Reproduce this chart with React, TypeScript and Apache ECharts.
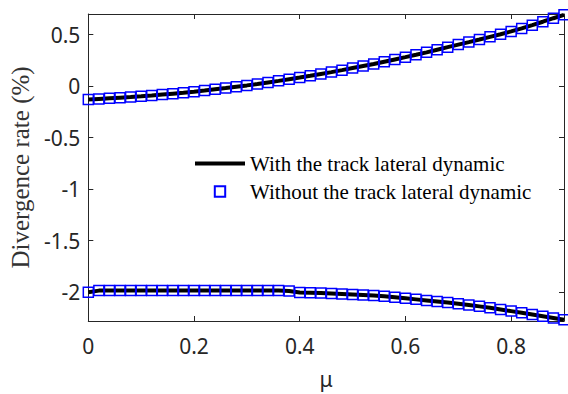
import React, { useEffect, useRef } from "react";
import * as echarts from "echarts";

const mu = [
  0, 0.02, 0.04, 0.06, 0.08, 0.1, 0.12, 0.14, 0.16, 0.18, 0.2, 0.22, 0.24, 0.26, 0.28, 0.3,
  0.32, 0.34, 0.36, 0.38, 0.4, 0.42, 0.44, 0.46, 0.48, 0.5, 0.52, 0.54, 0.56, 0.58, 0.6,
  0.62, 0.64, 0.66, 0.68, 0.7, 0.72, 0.74, 0.76, 0.78, 0.8, 0.82, 0.84, 0.86, 0.88, 0.9,
];

const upperBranch = [
  -0.13, -0.124, -0.118, -0.112, -0.106, -0.099, -0.091, -0.082, -0.073, -0.064, -0.054,
  -0.043, -0.031, -0.019, -0.006, 0.007, 0.021, 0.036, 0.051, 0.067, 0.083, 0.1, 0.118,
  0.136, 0.155, 0.175, 0.195, 0.215, 0.237, 0.259, 0.281, 0.304, 0.328, 0.353, 0.378,
  0.403, 0.427, 0.452, 0.478, 0.504, 0.531, 0.56, 0.592, 0.625, 0.659, 0.692,
];

const lowerBranch = [
  -2.0, -1.985, -1.985, -1.985, -1.985, -1.985, -1.985, -1.985, -1.985, -1.985, -1.985,
  -1.985, -1.985, -1.985, -1.985, -1.985, -1.985, -1.985, -1.985, -1.988, -2.003, -2.006,
  -2.009, -2.013, -2.017, -2.022, -2.027, -2.033, -2.04, -2.05, -2.06, -2.07, -2.08, -2.09,
  -2.101, -2.112, -2.125, -2.138, -2.152, -2.168, -2.184, -2.2, -2.216, -2.233, -2.25, -2.268,
];

const seriesNames = ["With the track lateral dynamic", "Without the track lateral dynamic"];

const pairs = (xs: number[], ys: number[]) => xs.map((x, i) => [x, ys[i]]);

const axisColor = "#262626";
const tickFont = { fontFamily: "Noto Sans", fontSize: 21, color: axisColor };

export default function App() {
  const ref = useRef<HTMLDivElement>(null);
  useEffect(() => {
    if (!ref.current) return;
    const chart = echarts.init(ref.current, null, { renderer: "svg" });
    const withStyle = {
      type: "line",
      name: seriesNames[0],
      symbol: "none",
      lineStyle: { color: "#000", width: 4 },
      itemStyle: { color: "#000" },
      z: 2,
    };
    const withoutStyle = {
      type: "line",
      name: seriesNames[1],
      symbol: "rect",
      symbolSize: 10,
      showSymbol: true,
      showAllSymbol: true,
      lineStyle: { width: 0, opacity: 0 },
      itemStyle: { color: "rgba(0,0,0,0)", borderColor: "#0000ff", borderWidth: 1.5 },
      z: 3,
    };
    const commonX = {
      type: "value",
      min: 0,
      max: 0.9,
      interval: 0.2,
      axisLine: { show: true, onZero: false, lineStyle: { color: axisColor, width: 1 } },
      axisTick: { show: true, inside: true, length: 5, lineStyle: { color: axisColor } },
      splitLine: { show: false },
    };
    const commonY = {
      type: "value",
      min: -2.28,
      max: 0.7,
      minInterval: 0.5,
      maxInterval: 0.5,
      axisLine: { show: true, onZero: false, lineStyle: { color: axisColor, width: 1 } },
      axisTick: { show: true, inside: true, length: 5, lineStyle: { color: axisColor } },
      splitLine: { show: false },
    };
    chart.setOption({
      animation: false,
      backgroundColor: "#fff",
      grid: { left: 88, right: 4, top: 14, bottom: 73, containLabel: false },
      legend: {
        orient: "vertical",
        left: 188,
        top: 148,
        itemWidth: 50,
        itemHeight: 13,
        itemGap: 7,
        selectedMode: false,
        textStyle: { fontFamily: "Liberation Serif", fontSize: 21, color: "#000", lineHeight: 20 },
        data: [
          { name: seriesNames[0], itemStyle: { opacity: 0 }, lineStyle: { width: 4, color: "#000" } },
          { name: seriesNames[1] },
        ],
      },
      xAxis: [
        {
          ...commonX,
          position: "bottom",
          axisLabel: { ...tickFont, margin: 14, showMaxLabel: false },
          name: "μ",
          nameLocation: "middle",
          nameGap: 47,
          nameTextStyle: { fontFamily: "Noto Sans", fontSize: 21, color: axisColor },
        },
        { ...commonX, position: "top", axisLabel: { show: false } },
      ],
      yAxis: [
        {
          ...commonY,
          position: "left",
          axisLabel: { ...tickFont, margin: 8, showMinLabel: false, showMaxLabel: false },
          name: "Divergence rate (%)",
          nameLocation: "middle",
          nameGap: 48,
          nameTextStyle: { fontFamily: "Liberation Serif", fontSize: 25, color: "#333" },
        },
        { ...commonY, position: "right", axisLabel: { show: false } },
      ],
      series: [
        { ...withStyle, data: pairs(mu, upperBranch) },
        { ...withStyle, data: pairs(mu, lowerBranch) },
        { ...withoutStyle, data: pairs(mu, upperBranch) },
        { ...withoutStyle, data: pairs(mu, lowerBranch) },
      ],
    });
    return () => chart.dispose();
  }, []);
  return (
    <div
      ref={ref}
      style={{ position: "fixed", left: 0, top: 0, width: 568, height: 394 }}
    />
  );
}
